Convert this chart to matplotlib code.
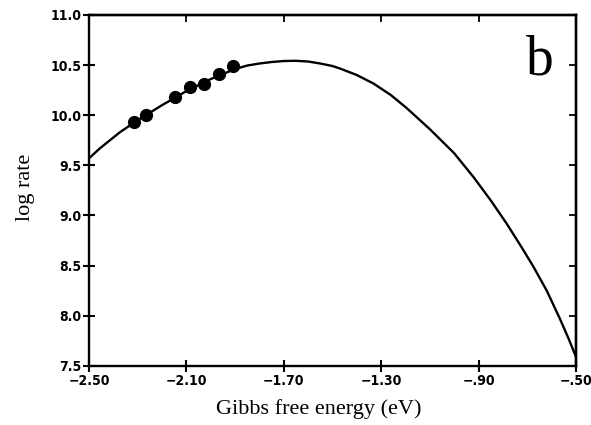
import matplotlib
matplotlib.use("Agg")
import numpy as np
import matplotlib.pyplot as plt

# curve
curve_dg = [-2.50, -2.455, -2.373, -2.30, -2.20, -2.10, -2.00, -1.90, -1.85, -1.80,
            -1.75, -1.70, -1.65, -1.60, -1.55, -1.50, -1.469, -1.40, -1.332, -1.26,
            -1.195, -1.10, -1.00, -0.92, -0.85, -0.785, -0.72, -0.675, -0.62, -0.566,
            -0.53, -0.50]
curve_rate = [9.57, 9.67, 9.83, 9.95, 10.10, 10.24, 10.36, 10.46, 10.495, 10.515,
              10.53, 10.54, 10.542, 10.535, 10.515, 10.49, 10.465, 10.40, 10.316, 10.20,
              10.07, 9.86, 9.62, 9.38, 9.15, 8.92, 8.67, 8.49, 8.25, 7.97,
              7.77, 7.59]

# measured points
pts_dg = [-2.315, -2.267, -2.147, -2.085, -2.028, -1.966, -1.910]
pts_rate = [9.93, 10.00, 10.18, 10.28, 10.31, 10.41, 10.49]

xticks = [-2.50, -2.10, -1.70, -1.30, -0.90, -0.50]
xlabels = ["\u22122.50", "\u22122.10", "\u22121.70", "\u22121.30", "\u2212.90", "\u2212.50"]
yticks = [7.5, 8.0, 8.5, 9.0, 9.5, 10.0, 10.5, 11.0]
ylabels = ["7.5", "8.0", "8.5", "9.0", "9.5", "10.0", "10.5", "11.0"]

fig = plt.figure(figsize=(5.91, 4.25), dpi=100)
ax = fig.add_axes([0.1506, 0.139, 0.824, 0.826])

ax.plot(curve_dg, curve_rate, color="black", lw=1.7)
ax.plot(pts_dg, pts_rate, "o", color="black", ms=8.5)

ax.set_xlim(-2.5, -0.5)
ax.set_ylim(7.5, 11.0)

tick_font = dict(family="DejaVu Sans", fontsize=10, fontweight="bold",
                 fontstretch="condensed")
ax.set_xticks(xticks)
ax.set_xticklabels(xlabels, **tick_font)
ax.set_yticks(yticks)
ax.set_yticklabels(ylabels, **tick_font)
ax.tick_params(axis="both", direction="inout", length=9, width=1.5, pad=1)

# top and right: inward ticks, no labels
top = ax.secondary_xaxis("top")
top.set_xticks(xticks)
top.tick_params(direction="in", length=5, width=1.3, labeltop=False)
right = ax.secondary_yaxis("right")
right.set_yticks(yticks)
right.tick_params(direction="in", length=5, width=1.3, labelright=False)

for s in ax.spines.values():
    s.set_linewidth(1.7)
top.spines["top"].set_linewidth(1.7)
right.spines["right"].set_linewidth(1.7)

ax.set_xlabel("Gibbs free energy (eV)", family="Liberation Serif", fontsize=16)
ax.xaxis.set_label_coords(0.472, -0.095)
ax.set_ylabel("log rate", family="Liberation Serif", fontsize=16)
ax.yaxis.set_label_coords(-0.111, 0.51)

ax.text(0.926, 0.87, "b", transform=ax.transAxes, family="Liberation Serif",
        fontsize=40, ha="center", va="center")

fig.savefig("out.png", dpi=100)
